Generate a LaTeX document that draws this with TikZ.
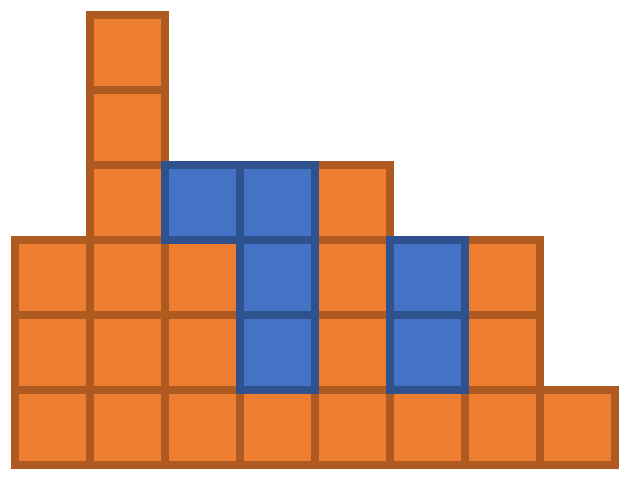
\documentclass[tikz,border=0pt]{standalone}
\usepackage{tikz}
\usetikzlibrary{positioning}
\definecolor{brickfill}{HTML}{ED7D31}
\definecolor{brickline}{HTML}{AE5A21}
\definecolor{tilefill}{HTML}{4472C4}
\definecolor{tileline}{HTML}{2F528F}
\begin{document}
\begin{tikzpicture}[x=75pt, y=75pt]

              \tikzset{
                brick/.style={
                    shape=rectangle,
                    draw=brickline,
                    fill=brickfill,
                    line width=8.5pt,
                    minimum size=75pt,
                    inner sep=0pt,
                    outer sep=0pt
                  },
                tile/.style={
                    brick,
                    draw=tileline,
                    fill=tilefill
                  }
              }
              \useasboundingbox (-0.197,-0.2) rectangle (8.203,6.2);

              % orange column by column
              \node[brick] (c00) at (0.5,0.5) {};
              \node[brick] (c01) at (0.5,1.5) {};
              \node[brick] (c02) at (0.5,2.5) {};

              \node[brick] (c10) at (1.5,0.5) {};
              \node[brick] (c11) at (1.5,1.5) {};
              \node[brick] (c12) at (1.5,2.5) {};
              \node[brick] (c13) at (1.5,3.5) {};
              \node[brick] (c14) at (1.5,4.5) {};
              \node[brick] (c15) at (1.5,5.5) {};

              \node[brick] (c20) at (2.5,0.5) {};
              \node[brick] (c21) at (2.5,1.5) {};
              \node[brick] (c22) at (2.5,2.5) {};

              \node[brick] (c30) at (3.5,0.5) {};

              \node[brick] (c40) at (4.5,0.5) {};
              \node[brick] (c41) at (4.5,1.5) {};
              \node[brick] (c42) at (4.5,2.5) {};
              \node[brick] (c43) at (4.5,3.5) {};

              \node[brick] (c50) at (5.5,0.5) {};

              \node[brick] (c60) at (6.5,0.5) {};
              \node[brick] (c61) at (6.5,1.5) {};
              \node[brick] (c62) at (6.5,2.5) {};

              \node[brick] (c70) at (7.5,0.5) {};

              % blue ones on top
              \node[tile] (c23) at (2.5,3.5) {};
              \node[tile] (c31) at (3.5,1.5) {};
              \node[tile] (c32) at (3.5,2.5) {};
              \node[tile] (c33) at (3.5,3.5) {};
              \node[tile] (c51) at (5.5,1.5) {};
              \node[tile] (c52) at (5.5,2.5) {};

            \end{tikzpicture}
\end{document}
